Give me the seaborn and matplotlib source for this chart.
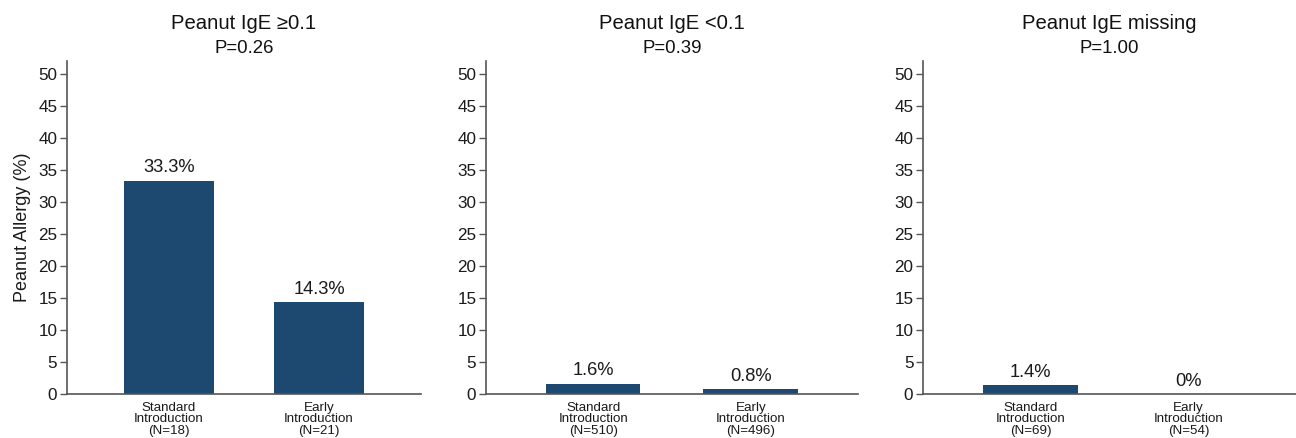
import matplotlib
matplotlib.use("Agg")
import matplotlib.pyplot as plt
import seaborn as sns
import pandas as pd

# Data
panel_titles = ["Peanut IgE \u22650.1", "Peanut IgE <0.1", "Peanut IgE missing"]
p_values = ["P=0.26", "P=0.39", "P=1.00"]
groups = ["Standard\nIntroduction", "Early\nIntroduction"]
n_standard = [18, 510, 69]
n_early = [21, 496, 54]
allergy_standard = [33.3, 1.6, 1.4]
allergy_early = [14.3, 0.8, 0.0]
value_labels_standard = ["33.3%", "1.6%", "1.4%"]
value_labels_early = ["14.3%", "0.8%", "0%"]

bar_color = "#1d4870"
spine_color = "#555555"
text_color = "#1a1a1a"

sns.set_theme(style="white")
plt.rcParams["font.family"] = ["Liberation Sans", "DejaVu Sans"]

fig = plt.figure(figsize=(12.96, 4.38), dpi=100)
positions = [
    [0.0517, 0.1005, 0.2731, 0.7603],
    [0.375, 0.1005, 0.287, 0.7603],
    [0.7122, 0.1005, 0.2878, 0.7603],
]

for i in range(3):
    ax = fig.add_axes(positions[i])
    labels = [f"{groups[0]}\n(N={n_standard[i]})", f"{groups[1]}\n(N={n_early[i]})"]
    df = pd.DataFrame({"group": labels, "value": [allergy_standard[i], allergy_early[i]]})
    sns.barplot(data=df, x="group", y="value", ax=ax, color=bar_color,
                width=0.6, saturation=1, errorbar=None, linewidth=0)
    ax.set_xlim(-0.68, 1.68)
    ax.set_ylim(0, 52)
    ax.set_yticks(range(0, 51, 5))
    ax.tick_params(axis="y", which="both", left=True, length=5, width=1,
                   color=spine_color, labelsize=12.3, pad=2, labelcolor=text_color)
    ax.tick_params(axis="x", bottom=False, labelsize=9.6, pad=0, labelcolor=text_color)
    for lbl in ax.get_xticklabels():
        lbl.set_linespacing(0.9)
    for s in ["top", "right"]:
        ax.spines[s].set_visible(False)
    for s in ["left", "bottom"]:
        ax.spines[s].set_color(spine_color)
        ax.spines[s].set_linewidth(1.2)
    ax.set_xlabel("")
    if i == 0:
        ax.set_ylabel("Peanut Allergy (%)", fontsize=13, labelpad=5, color=text_color)
    else:
        ax.set_ylabel("")
    # two-line title: main line and P-value line
    ax.annotate(panel_titles[i], xy=(0.5, 1.0), xycoords="axes fraction",
                xytext=(0, 23), textcoords="offset points", ha="center",
                va="baseline", fontsize=14.6, color="#111111")
    ax.annotate(p_values[i], xy=(0.5, 1.0), xycoords="axes fraction",
                xytext=(0, 5.5), textcoords="offset points", ha="center",
                va="baseline", fontsize=13.4, color="#111111")
    vals = [allergy_standard[i], allergy_early[i]]
    vlabels = [value_labels_standard[i], value_labels_early[i]]
    for j, (v, t) in enumerate(zip(vals, vlabels)):
        ax.annotate(t, xy=(j, v), xytext=(0, 6), textcoords="offset points",
                    ha="center", va="baseline", fontsize=13.2, color=text_color)

fig.savefig("out.png", dpi=100)
